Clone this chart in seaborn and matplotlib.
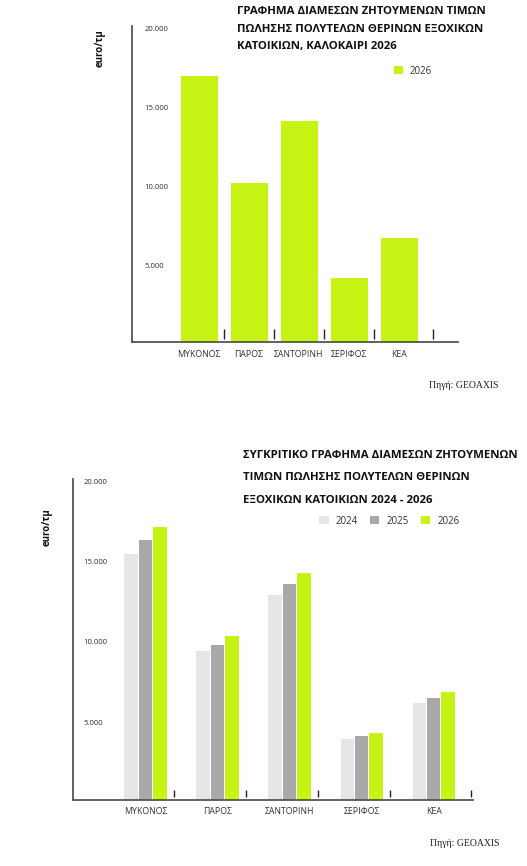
import matplotlib
matplotlib.use("Agg")
import matplotlib.pyplot as plt
import numpy as np
import pandas as pd
import seaborn as sns

# ---------------- data ----------------
islands = ["ΜΥΚΟΝΟΣ", "ΠΑΡΟΣ", "ΣΑΝΤΟΡΙΝΗ", "ΣΕΡΙΦΟΣ", "ΚΕΑ"]
top_2026 = [16800, 10050, 13950, 4030, 6580]
cmp_2024 = [15300, 9300, 12800, 3800, 6050]
cmp_2025 = [16200, 9650, 13450, 4000, 6380]
cmp_2026 = [17000, 10200, 14150, 4200, 6750]
years = ["2024", "2025", "2026"]
ytick_values = [0, 5000, 10000, 15000, 20000]
ytick_labels = ["", "5.000", "10.000", "15.000", "20.000"]
ylabel = "euro/τμ"
source = "Πηγή: GEOAXIS"
top_title = ["ΓΡΑΦΗΜΑ ΔΙΑΜΕΣΩΝ ΖΗΤΟΥΜΕΝΩΝ ΤΙΜΩΝ",
             "ΠΩΛΗΣΗΣ ΠΟΛΥΤΕΛΩΝ ΘΕΡΙΝΩΝ ΕΞΟΧΙΚΩΝ",
             "ΚΑΤΟΙΚΙΩΝ, ΚΑΛΟΚΑΙΡΙ 2026"]
bottom_title = ["ΣΥΓΚΡΙΤΙΚΟ ΓΡΑΦΗΜΑ ΔΙΑΜΕΣΩΝ ΖΗΤΟΥΜΕΝΩΝ",
                "ΤΙΜΩΝ ΠΩΛΗΣΗΣ ΠΟΛΥΤΕΛΩΝ ΘΕΡΙΝΩΝ",
                "ΕΞΟΧΙΚΩΝ ΚΑΤΟΙΚΙΩΝ 2024 - 2026"]

palette = {"2024": "#e6e6e6", "2025": "#a9a9a9", "2026": "#c6f214"}

df_top = pd.DataFrame({"island": islands, "value": top_2026, "year": "2026"})
df_cmp = pd.DataFrame({
    "island": islands * 3,
    "value": cmp_2024 + cmp_2025 + cmp_2026,
    "year": ["2024"] * 5 + ["2025"] * 5 + ["2026"] * 5,
})

# ---------------- style ----------------
sns.set_theme(style="white")
plt.rcParams["font.family"] = ["Open Sans", "DejaVu Sans"]

W, H = 527, 866
fig = plt.figure(figsize=(W / 100, H / 100), dpi=100)
fig.patch.set_facecolor("white")

def fx(px):
    return px / W

def fy(py):
    return 1 - py / H

AX_COLOR = "#555555"

def style_axes(ax, xlim, label_pad_px, sep_offsets, sep_y):
    ax.set_xlim(*xlim)
    ax.set_ylim(0, 20000)
    for s in ["top", "right"]:
        ax.spines[s].set_visible(False)
    for s in ["left", "bottom"]:
        ax.spines[s].set_color(AX_COLOR)
        ax.spines[s].set_linewidth(1.3)
    ax.set_yticks(ytick_values)
    ax.set_yticklabels(ytick_labels)
    ax.tick_params(axis="y", direction="in", length=7, width=1.1, color="#333333",
                   pad=-label_pad_px * 0.72, labelsize=5.6, labelcolor="#333333")
    for t in ax.get_yticklabels():
        t.set_horizontalalignment("left")
        t.set_verticalalignment("top")
    ax.tick_params(axis="x", length=0, labelsize=6.3, labelcolor="#333333")
    ax.set_xlabel("")
    ax.set_ylabel("")
    pos = np.arange(len(islands)) + np.array(sep_offsets)
    ax.vlines(pos, sep_y[0], sep_y[1], transform=ax.get_xaxis_transform(),
              color="#222222", lw=1.0)

# ---------------- top chart ----------------
ax1 = fig.add_axes([fx(131.7), fy(341.7), fx(458 - 131.7), (341.7 - 25.7) / H])
sns.barplot(data=df_top, x="island", y="value", hue="year", palette=palette,
            width=0.74, saturation=1, linewidth=0, ax=ax1, legend=True)
h1, l1 = ax1.get_legend_handles_labels()
ax1.get_legend().remove()
style_axes(ax1, (-1.346, 5.18), 13, [0.5, 0.5, 0.5, 0.5, 0.67], (0.0095, 0.04))
ax1.tick_params(axis="x", pad=6.3)
ax1.legend(h1, l1, loc="center left", bbox_to_anchor=(fx(394), fy(71)),
           bbox_transform=fig.transFigure, frameon=False, borderpad=0,
           borderaxespad=0, handlelength=0.95, handleheight=0.95,
           handletextpad=0.7, fontsize=7, labelcolor="#333333")

for i, line in enumerate(top_title):
    fig.text(fx(236.7), fy(14 + 17.6 * i), line, fontsize=8.2, fontweight="bold",
             color="#111111", ha="left", va="baseline")
fig.text(fx(100), fy(48), ylabel, rotation=90, fontsize=7, fontweight="bold",
         color="#111111", ha="center", va="center")
fig.text(fx(429), fy(388), source, family="Liberation Serif", fontsize=7,
         color="#222222", ha="left", va="baseline")

# ---------------- bottom chart ----------------
ax2 = fig.add_axes([fx(72.5), fy(800), fx(472.7 - 72.5), (800 - 479) / H])
sns.barplot(data=df_cmp, x="island", y="value", hue="year", palette=palette,
            width=0.6, gap=0.08, saturation=1, linewidth=0, ax=ax2, legend=True)
h2, l2 = ax2.get_legend_handles_labels()
ax2.get_legend().remove()
style_axes(ax2, (-1.014, 4.544), 11, [0.4, 0.4, 0.4, 0.4, 0.52], (0.0104, 0.031))
ax2.tick_params(axis="x", pad=5.2)
ax2.legend(h2, l2, loc="center left", bbox_to_anchor=(fx(319.3), fy(521)),
           bbox_transform=fig.transFigure, frameon=False, borderpad=0,
           borderaxespad=0, ncol=3, handlelength=0.95, handleheight=0.95,
           handletextpad=0.7, columnspacing=1.3, fontsize=7, labelcolor="#333333")

for i, line in enumerate(bottom_title):
    fig.text(fx(243.3), fy(458.3 + 22.2 * i), line, fontsize=8.2, fontweight="bold",
             color="#111111", ha="left", va="baseline")
fig.text(fx(47), fy(527), ylabel, rotation=90, fontsize=7, fontweight="bold",
         color="#111111", ha="center", va="center")
fig.text(fx(430), fy(846), source, family="Liberation Serif", fontsize=7,
         color="#222222", ha="left", va="baseline")

fig.savefig("out.png", dpi=100, facecolor="white")
